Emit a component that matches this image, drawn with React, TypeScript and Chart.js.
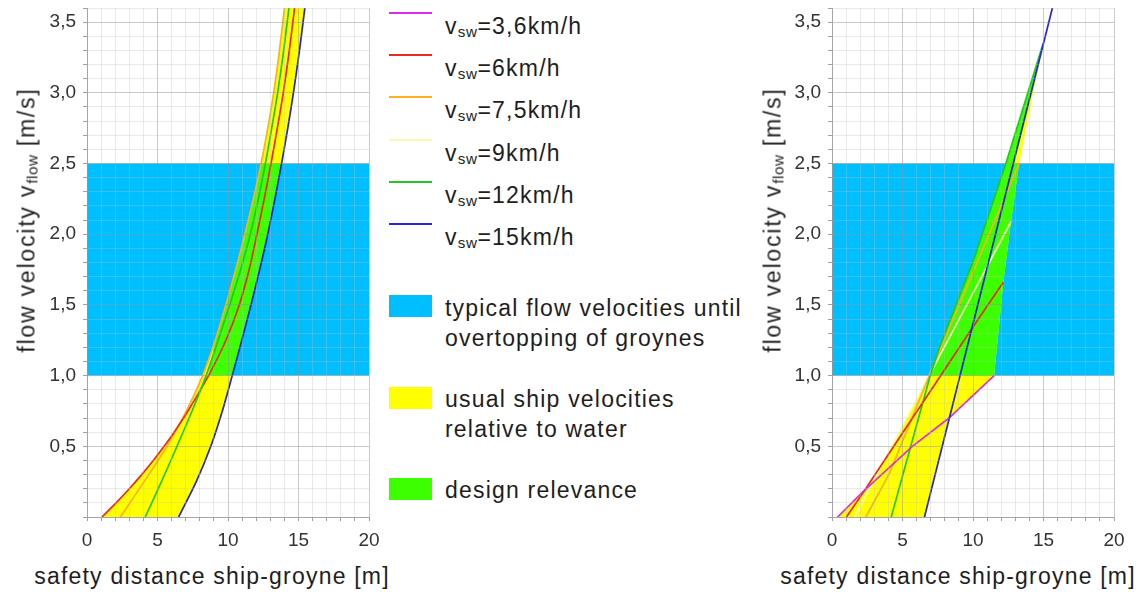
import { useEffect, useRef } from "react";
import { Chart, registerables } from "chart.js";

Chart.register(...registerables);

// [safety distance ship-groyne (m), flow velocity (m/s)]
type Pt = [number, number];

const FONT = '"Liberation Sans", Arial, Helvetica, sans-serif';

// ship speeds relative to water (km/h) and their line colours
const speedLabels = ["3,6", "6", "7,5", "9", "12", "15"];
const speedColors = ["#e02be0", "#ec2a1c", "#ffb01e", "#f0ffb0", "#22c822", "#2626d6"];

// shaded areas
const areaLabels = [
  ["typical flow velocities until", "overtopping of groynes"],
  ["usual ship velocities", "relative to water"],
  ["design relevance"],
];
const areaColors = ["#00bfff", "#ffff00", "#3cff00"];

// axis tick labels
const xTickLabels = ["0", "5", "10", "15", "20"];
const yTickLabels = ["0,5", "1,0", "1,5", "2,0", "2,5", "3,0", "3,5"];

// range of typical flow velocities until overtopping of groynes
const flowBand: Pt[] = [[0, 1.0], [20, 1.0], [20, 2.5], [0, 2.5]];

// ---- left diagram: curved relations ----
const left6: Pt[] = [
  [1.06, 0], [2.06, 0.1], [3.0, 0.2], [3.88, 0.3], [4.7, 0.4], [5.47, 0.5], [6.18, 0.6],
  [7.16, 0.75], [8.62, 1.0], [9.85, 1.25], [10.8, 1.5], [11.5, 1.75], [12.05, 2.0],
  [12.57, 2.25], [13.05, 2.5], [13.5, 2.75], [13.92, 3.0], [14.35, 3.3], [14.72, 3.6], [14.9, 3.75],
];
const left7_5: Pt[] = [
  [2.36, 0], [4.05, 0.25], [5.67, 0.5], [7.05, 0.75], [8.2, 1.0], [9.1, 1.25], [9.85, 1.5],
  [10.55, 1.75], [11.2, 2.0], [11.8, 2.25], [12.35, 2.5], [12.82, 2.75], [13.24, 3.0],
  [13.65, 3.3], [14.0, 3.6], [14.17, 3.75],
];
const left12: Pt[] = [
  [4.13, 0], [5.28, 0.25], [6.38, 0.5], [7.45, 0.75], [8.45, 1.0], [9.3, 1.25], [10.12, 1.5],
  [10.9, 1.75], [11.58, 2.0], [12.15, 2.25], [12.65, 2.5], [13.1, 2.75], [13.52, 3.0],
  [13.95, 3.3], [14.32, 3.6], [14.5, 3.75],
];
const left15: Pt[] = [
  [6.5, 0], [7.75, 0.25], [8.78, 0.5], [9.6, 0.75], [10.3, 1.0], [10.98, 1.25], [11.63, 1.5],
  [12.25, 1.75], [12.82, 2.0], [13.33, 2.25], [13.8, 2.5], [14.24, 2.75], [14.64, 3.0],
  [15.07, 3.3], [15.45, 3.6], [15.63, 3.75],
];

// usual ship velocities: left envelope (6 km/h low, 7,5 km/h above) to the 15 km/h curve
const leftUsual: Pt[] = [
  ...left6.filter(([, y]) => y <= 0.6),
  ...left7_5.filter(([, y]) => y >= 0.75),
  ...[...left15].reverse(),
];
// design relevance: usual ship velocities within the typical flow band
const leftDesign: Pt[] = [
  ...left6.filter(([, y]) => y === 1.0),
  ...left7_5.filter(([, y]) => y >= 1.25 && y <= 2.5),
  ...[...left15].reverse().filter(([, y]) => y >= 1.0 && y <= 2.5),
];

// ---- right diagram: linear relations ----
const right3_6: Pt[] = [[0.4, 0], [2.2, 0.18], [5.7, 0.5], [8.3, 0.7], [11.5, 1.0]];
const right6: Pt[] = [[1.02, 0], [2.19, 0.17], [4.31, 0.49], [9.9, 1.33], [12.15, 1.66]];
const right7_5: Pt[] = [[2.4, 0], [4.08, 0.31], [6.9, 1.0], [13.27, 2.5]];
const right9: Pt[] = [[1.6, 0], [7.85, 1.18], [12.7, 2.09]];
const right12: Pt[] = [[4.2, 0], [6.97, 1.0], [7.62, 1.2], [10.05, 1.82], [12.33, 2.5], [14.98, 3.35]];
const right15: Pt[] = [[6.56, 0], [15.63, 3.6], [15.88, 3.7]];

const rightUsual: Pt[] = [
  [0.4, 0], [6.56, 0], [8.32, 0.7], [11.5, 1.0], [12.15, 1.66], [12.7, 2.09], [13.27, 2.5],
  [14.98, 3.35], [12.33, 2.5], [10.05, 1.82], [7.62, 1.2], [6.97, 1.0], [6.9, 1.0],
  [3.55, 0.37], [2.2, 0.18],
];
const rightDesign: Pt[] = [
  [6.9, 1.0], [11.5, 1.0], [12.15, 1.66], [12.7, 2.09], [13.27, 2.5], [12.86, 2.5],
  [14.98, 3.35], [12.33, 2.5], [10.05, 1.82], [7.62, 1.2], [6.97, 1.0],
];

const toXY = (pts: Pt[]) => pts.map(([x, y]) => ({ x, y }));

const curve = (pts: Pt[], color: string, order = 0, tension = 0) => ({
  data: toXY(pts),
  borderColor: color,
  borderWidth: 1.7,
  fill: false,
  pointRadius: 0,
  tension,
  order,
});

const area = (pts: Pt[], color: string, order: number) => ({
  data: toXY(pts),
  borderColor: "rgba(0,0,0,0)",
  borderWidth: 1,
  backgroundColor: color,
  fill: "shape",
  pointRadius: 0,
  tension: 0,
  order,
});

const leftDatasets = [
  area(flowBand, areaColors[0], 30),
  area(leftUsual, areaColors[1], 20),
  area(leftDesign, areaColors[2], 10),
  curve(left6, speedColors[1], 2, 0.3),
  curve(left7_5, speedColors[2], 3, 0.3),
  curve(left12, speedColors[4], 1, 0.3),
  curve(left15, speedColors[5], 0, 0.3),
];

const rightDatasets = [
  area(flowBand, areaColors[0], 30),
  area(rightUsual, areaColors[1], 20),
  area(rightDesign, areaColors[2], 10),
  curve(right9, speedColors[3], 5),
  curve(right7_5, speedColors[2], 4),
  curve(right12, speedColors[4], 3),
  curve(right6, speedColors[1], 2),
  curve(right3_6, speedColors[0], 1),
  curve(right15, speedColors[5], 0),
];

const isMajor = (axis: string, v: number) =>
  axis === "x" ? Math.abs(v % 5) < 1e-6 : Math.round(v * 10) % 5 === 0;

const gridColor = (ctx: any) => {
  const v = ctx.tick ? ctx.tick.value : 0;
  return isMajor(ctx.scale.axis, v) ? "rgba(150,150,150,0.5)" : "rgba(190,190,190,0.32)";
};

function buildConfig(datasets: any[]): any {
  const tickFont = { family: FONT, size: 19 };
  return {
    type: "line",
    data: { datasets },
    options: {
      animation: false,
      responsive: false,
      maintainAspectRatio: false,
      layout: { padding: { top: 8, right: 16, bottom: 0, left: 0 } },
      plugins: { legend: { display: false }, tooltip: { enabled: false } },
      scales: {
        x: {
          type: "linear",
          min: 0,
          max: 20,
          afterFit: (s: any) => {
            s.height = 43;
            s.paddingLeft = 0;
            s.paddingRight = 0;
          },
          ticks: {
            stepSize: 1,
            autoSkip: false,
            maxRotation: 0,
            padding: 8,
            color: "#333",
            font: tickFont,
            callback: (v: number) => {
              const s = String(Math.round(v));
              return xTickLabels.includes(s) && Math.abs(v - Math.round(v)) < 1e-6 ? s : "";
            },
          },
          grid: { z: 1, color: gridColor, tickLength: 4, tickColor: "#a0a0a0" },
          border: { z: 1, color: "rgba(150,150,150,0.7)" },
        },
        y: {
          type: "linear",
          min: 0,
          max: 3.6,
          afterFit: (s: any) => {
            s.width = 87;
            s.paddingTop = 0;
            s.paddingBottom = 0;
          },
          ticks: {
            stepSize: 0.1,
            autoSkip: false,
            padding: 7,
            color: "#333",
            font: tickFont,
            callback: (v: number) => {
              const s = v.toFixed(1).replace(".", ",");
              return yTickLabels.includes(s) ? s : "";
            },
          },
          grid: { z: 1, color: gridColor, tickLength: 4, tickColor: "#a0a0a0" },
          border: { z: 1, color: "rgba(150,150,150,0.7)" },
        },
      },
    },
  };
}

function Panel({ left, datasets }: { left: number; datasets: any[] }) {
  const ref = useRef<HTMLCanvasElement>(null);
  useEffect(() => {
    const chart = new Chart(ref.current as HTMLCanvasElement, buildConfig(datasets));
    return () => chart.destroy();
  }, [datasets]);
  return (
    <canvas
      ref={ref}
      width={385}
      height={560}
      style={{ position: "absolute", left, top: 0, width: 385, height: 560 }}
    />
  );
}

const textStyle: any = {
  position: "absolute",
  whiteSpace: "nowrap",
  fontSize: 23,
  letterSpacing: 1.2,
  color: "#1e1e1e",
};

const sub = (t: string) => (
  <span style={{ fontSize: "0.66em", position: "relative", top: "0.22em", letterSpacing: 0.6 }}>{t}</span>
);

function YTitle({ cx }: { cx: number }) {
  return (
    <div
      style={{
        ...textStyle,
        letterSpacing: 1.8,
        lineHeight: 1,
        left: cx,
        top: 220,
        transform: "translate(-50%, -50%) rotate(-90deg)",
      }}
    >
      flow velocity v{sub("flow")} [m/s]
    </div>
  );
}

function XTitle({ cx }: { cx: number }) {
  return (
    <div style={{ ...textStyle, lineHeight: 1, left: cx, top: 564.5, transform: "translateX(-50%)" }}>
      safety distance ship-groyne [m]
    </div>
  );
}

const legendLineY = [13, 55, 97, 140, 182, 224];
const areaBoxY = [295, 387, 478];
const areaTextTop = [293, 384, 475];

function Legend() {
  return (
    <>
      {speedLabels.map((s, i) => (
        <div key={"l" + i}>
          <div
            style={{
              position: "absolute",
              left: 389,
              top: legendLineY[i] - 1,
              width: 43,
              height: 2,
              background: speedColors[i],
            }}
          />
          <div style={{ ...textStyle, lineHeight: 1, left: 445, top: legendLineY[i] + 21 - 19.5 }}>
            v{sub("sw")}={s}km/h
          </div>
        </div>
      ))}
      {areaLabels.map((lines, i) => (
        <div key={"a" + i}>
          <div
            style={{
              position: "absolute",
              left: 389,
              top: areaBoxY[i],
              width: 43,
              height: 22,
              background: areaColors[i],
            }}
          />
          <div style={{ ...textStyle, lineHeight: "30px", left: 445, top: areaTextTop[i] }}>
            {lines.map((l, j) => (
              <div key={j}>{l}</div>
            ))}
          </div>
        </div>
      ))}
    </>
  );
}

export default function App() {
  return (
    <div
      style={{
        position: "absolute",
        left: 0,
        top: 0,
        width: 1143,
        height: 592,
        background: "#fff",
        overflow: "hidden",
        fontFamily: FONT,
      }}
    >
      <Panel left={0} datasets={leftDatasets} />
      <Panel left={745} datasets={rightDatasets} />
      <YTitle cx={27} />
      <YTitle cx={773} />
      <XTitle cx={212} />
      <XTitle cx={958} />
      <Legend />
    </div>
  );
}
